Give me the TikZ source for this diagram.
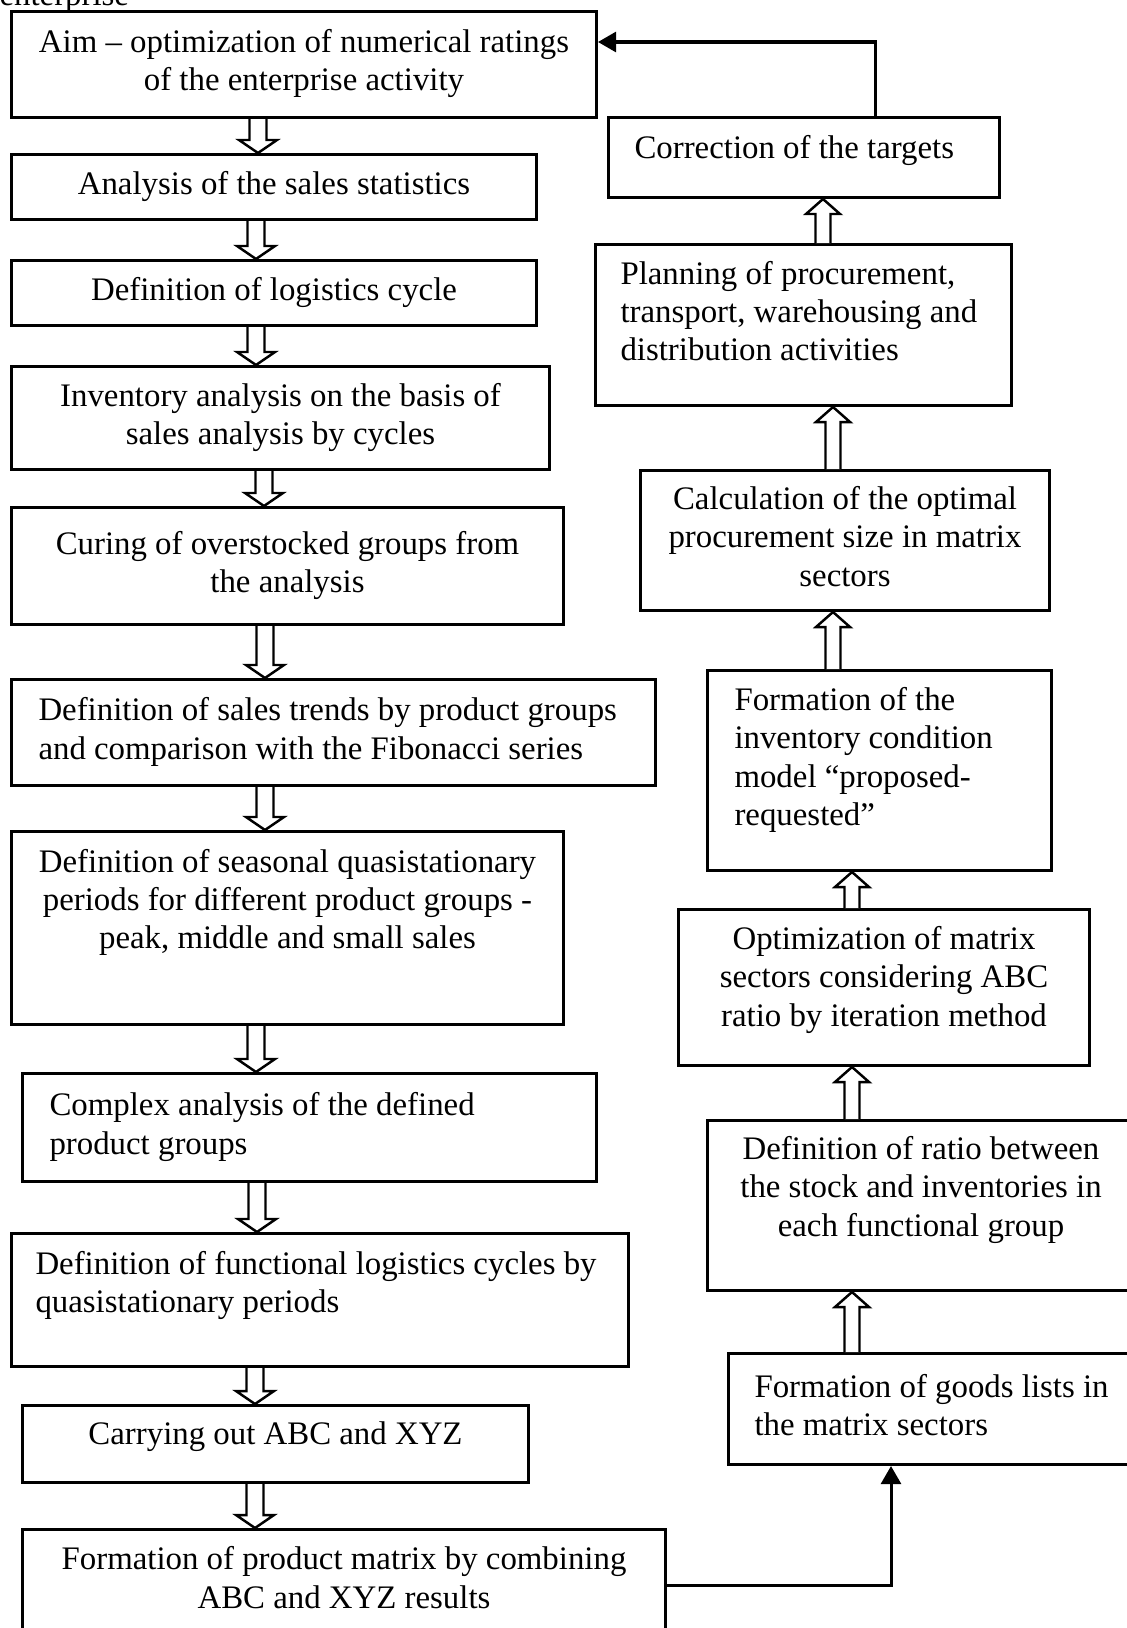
\documentclass[tikz,border=0pt]{standalone}
\usepackage{fontspec}
\setmainfont{Liberation Serif}
\usetikzlibrary{arrows.meta,calc}

% one pixel of the scanned chart
\newcommand{\pxu}{0.3653pt}
\newlength{\pxlen}
\setlength{\pxlen}{0.3653pt}

% left aligned lines of a given width (in pixels)
\newcommand{\leftpar}[2]{\parbox[b]{#1\pxlen}{\raggedright #2}}

% hollow block arrows between two boxes, #1 = x position
\newcommand{\hollowdown}[3]{%
  \draw[hollow] let \p1=(#2.south -| #1,0), \p2=(#3.north -| #1,0) in
    (\x1-8.5*\pxu,\y1) -- (\x1-8.5*\pxu,\y2+13*\pxu) -- (\x1-19*\pxu,\y2+13*\pxu)
    -- (\x2,\y2) -- (\x1+19*\pxu,\y2+13*\pxu) -- (\x1+8.5*\pxu,\y2+13*\pxu) -- (\x1+8.5*\pxu,\y1);}
\newcommand{\hollowup}[3]{%
  \draw[hollow] let \p1=(#2.north -| #1,0), \p2=(#3.south -| #1,0) in
    (\x1-7.5*\pxu,\y1) -- (\x1-7.5*\pxu,\y2-15*\pxu) -- (\x1-17*\pxu,\y2-15*\pxu)
    -- (\x2,\y2) -- (\x1+17*\pxu,\y2-15*\pxu) -- (\x1+7.5*\pxu,\y2-15*\pxu) -- (\x1+7.5*\pxu,\y1);}

\tikzset{
  chartfont/.style={font=\fontsize{12}{13.9}\selectfont},
  stepbox/.style={draw, line width=1.1pt, anchor=north west, inner sep=0pt, chartfont, text depth=3pt},
  midbox/.style={stepbox, align=center},
  wh/.code 2 args={\pgfmathsetlengthmacro\boxw{#1*0.3653}\pgfmathsetlengthmacro\boxh{#2*0.3653}%
    \tikzset{minimum width=\boxw, minimum height=\boxh}},
  lift/.code={\pgfmathsetlengthmacro\boxdp{3+0.7306*#1}\tikzset{text depth=\boxdp}},
  hollow/.style={draw, line width=0.9pt, fill=white},
  link/.style={line width=1.1pt, -{Triangle[length=6.6pt, width=7.3pt]}},
}

\begin{document}
\begin{tikzpicture}[x=0.3653pt, y=-0.3653pt]
\useasboundingbox (0,0) rectangle (1126,1628);

% Cut caption line above the chart
\node[chartfont, anchor=base west, inner sep=0pt] (caption) at (-1,5) {enterprise};

% Left column: from the aim down to the product matrix
\node[midbox, wh={585}{106}] (aim) at (10,10) {Aim – optimization of numerical ratings\\of the enterprise activity};
\node[midbox, wh={525}{65}] (stats) at (10,153) {Analysis of the sales statistics};
\node[midbox, wh={525}{65}] (cycle) at (10,259) {Definition of logistics cycle};
\node[midbox, wh={538}{103}] (inventory) at (10,365) {Inventory analysis on the basis of\\sales analysis by cycles};
\node[midbox, wh={552}{117}] (curing) at (10,506) {Curing of overstocked groups from\\the analysis};
\node[stepbox, wh={644}{106}] (trends) at (10,678) {\leftpar{590}{Definition of sales trends by product groups\\and comparison with the Fibonacci series}};
\node[midbox, wh={552}{193}, lift=25] (seasonal) at (10,830) {Definition of seasonal quasistationary\\periods for different product groups -\\peak, middle and small sales};
\node[stepbox, wh={574}{108}] (complex) at (21,1072) {\leftpar{520}{Complex analysis of the defined\\product groups}};
\node[stepbox, wh={617}{133}, lift=14] (functional) at (10,1232) {\leftpar{569}{Definition of functional logistics cycles by\\quasistationary periods}};
\node[midbox, wh={506}{77}, lift=7] (abc) at (21,1404) {Carrying out ABC and XYZ};
\node[midbox, wh={643}{112}, lift=4] (combine) at (21,1528) {Formation of product matrix by combining\\ABC and XYZ results};

% Right column: from the goods lists back up to the targets
\node[stepbox, wh={391}{80}, lift=6] (correct) at (607,116) {\leftpar{339}{Correction of the targets}};
\node[stepbox, wh={416}{161}, lift=10] (plan) at (594,243) {\leftpar{366}{Planning of procurement,\\transport, warehousing and\\distribution activities}};
\node[midbox, wh={409}{140}] (optsize) at (639,469) {Calculation of the optimal\\procurement size in matrix\\sectors};
\node[stepbox, wh={344}{200}, lift=10] (model) at (706,669) {\leftpar{290}{Formation of the\\inventory condition\\model “proposed-\\requested”}};
\node[midbox, wh={411}{156}, lift=7] (opt) at (677,908) {Optimization of matrix\\sectors considering ABC\\ratio by iteration method};
\node[midbox, wh={427}{170}, lift=15] (ratio) at (706,1119) {Definition of ratio between\\the stock and inventories in\\each functional group};
\node[stepbox, wh={430}{111}] (goods) at (727,1352) {\leftpar{378}{Formation of goods lists in\\the matrix sectors}};

% Hollow arrows inside each column
\foreach \xpos/\src/\dst in {258/aim/stats, 256/stats/cycle, 256/cycle/inventory, 264/inventory/curing,
    265/curing/trends, 265/trends/seasonal, 256/seasonal/complex, 257/complex/functional,
    255/functional/abc, 255/abc/combine}
  \hollowdown{\xpos}{\src}{\dst};
\foreach \xpos/\src/\dst in {823/plan/correct, 833/optsize/plan, 833/model/optsize,
    852/opt/model, 852/ratio/opt, 852/goods/ratio}
  \hollowup{\xpos}{\src}{\dst};

% Links between the two columns
\draw[link] (correct.north -| 875,0) |- (aim.east |- 0,42);
\draw[link] (combine.east) -| (goods.south -| 891,0);

\end{tikzpicture}
\end{document}
